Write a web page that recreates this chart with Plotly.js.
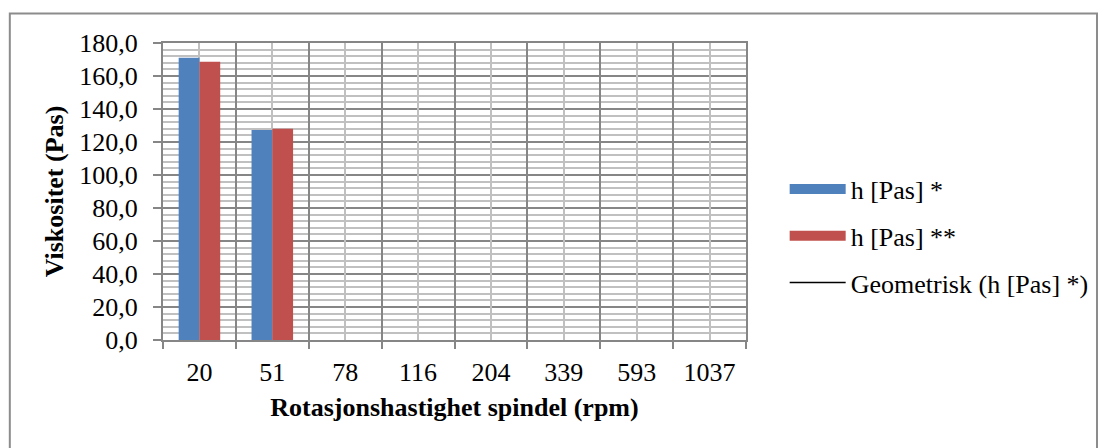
<!DOCTYPE html>
<html>
<head>
<meta charset="utf-8">
<script src="https://cdn.plot.ly/plotly-3.0.1.min.js"></script>
<style>
  html, body { margin: 0; padding: 0; background: #fff; }
  #chart { width: 1106px; height: 448px; }
</style>
</head>
<body>
<div id="chart"></div>
<script>
const categories = ['20', '51', '78', '116', '204', '339', '593', '1037'];
const viscStar = [171.0, 127.3, null, null, null, null, null, null];
const viscStarStar = [168.7, 128.1, null, null, null, null, null, null];
const geometrisk = [null, null, null, null, null, null, null, null];
const seriesNames = ['h [Pas] *', 'h [Pas] **', 'Geometrisk (h [Pas] *)'];
const yTitle = 'Viskositet (Pas)';
const xTitle = 'Rotasjonshastighet spindel (rpm)';

const FONT = '"Liberation Serif", "Times New Roman", serif';
const FS = 26;
const DARK = '#868686';
const LIGHT = '#c0c0c0';
const BLUE = '#4F81BD';
const RED = '#C0504D';

const traces = [
  { type: 'bar', name: seriesNames[0], x: categories, y: viscStar,
    marker: { color: BLUE }, showlegend: false, xaxis: 'x', yaxis: 'y' },
  { type: 'bar', name: seriesNames[1], x: categories, y: viscStarStar,
    marker: { color: RED }, showlegend: false, xaxis: 'x', yaxis: 'y' },
  // legend-only entries drawn as wide swatches, as in the reference
  { type: 'scatter', mode: 'lines', name: seriesNames[0], x: categories, y: geometrisk.map(() => null),
    line: { color: BLUE, width: 13 }, legendgroup: 'a', xaxis: 'x2', yaxis: 'y' },
  { type: 'scatter', mode: 'lines', name: seriesNames[1], x: categories, y: geometrisk.map(() => null),
    line: { color: RED, width: 13 }, legendgroup: 'b', xaxis: 'x2', yaxis: 'y' },
  { type: 'scatter', mode: 'lines', name: seriesNames[2], x: categories, y: geometrisk,
    line: { color: '#000', width: 1.5 }, legendgroup: 'c', xaxis: 'x2', yaxis: 'y' }
];

const L = 163, R = 751, T = 43, B = 340, W = 1106, H = 448;
const pw = R - L, ph = B - T;
const px = v => (v - L) / pw;
const py = v => (B - v) / ph;

const layout = {
  width: W, height: H,
  margin: { l: L, r: W - R, t: T, b: H - B, pad: 0 },
  paper_bgcolor: '#fff', plot_bgcolor: '#fff',
  separators: ', ',
  font: { family: FONT, size: FS, color: '#000' },
  barmode: 'group', bargap: 0.43, bargroupgap: 0,
  showlegend: true,
  legend: {
    x: px(790), xanchor: 'left', y: py(236), yanchor: 'middle',
    font: { family: FONT, size: FS, color: '#000' },
    tracegroupgap: 10, itemwidth: 56, bgcolor: 'rgba(0,0,0,0)'
  },
  xaxis: {
    type: 'category', categoryorder: 'array', categoryarray: categories,
    range: [-0.5, 7.5], tickson: 'boundaries',
    showgrid: true, gridcolor: DARK, gridwidth: 2,
    showline: true, linecolor: DARK, linewidth: 2, mirror: true,
    ticks: 'outside', ticklen: 7, tickcolor: DARK, tickwidth: 2,
    ticklabelstandoff: 8,
    tickfont: { family: FONT, size: FS, color: '#000' },
    title: { text: '<b>' + xTitle + '</b>', font: { family: FONT, size: FS, color: '#000' }, standoff: 12 },
    fixedrange: true, zeroline: false
  },
  xaxis2: {
    type: 'category', categoryorder: 'array', categoryarray: categories,
    range: [-0.5, 7.5], overlaying: 'x', anchor: 'y', side: 'bottom',
    showgrid: true, gridcolor: LIGHT, gridwidth: 2,
    showticklabels: false, ticks: '', showline: false, zeroline: false
  },
  yaxis: {
    range: [0, 180], dtick: 20, tick0: 0, tickformat: '.1f',
    showgrid: true, gridcolor: DARK, gridwidth: 2,
    minor: { dtick: 4, showgrid: true, gridcolor: LIGHT, gridwidth: 2, ticks: '' },
    showline: true, linecolor: DARK, linewidth: 2, mirror: true,
    ticks: 'outside', ticklen: 8, tickcolor: DARK, tickwidth: 2,
    ticklabelstandoff: 10,
    tickfont: { family: FONT, size: FS, color: '#000' },
    title: { text: '<b>' + yTitle + '</b>', font: { family: FONT, size: FS, color: '#000' }, standoff: 8 },
    zeroline: false, fixedrange: true
  },
  shapes: [
    { type: 'rect', xref: 'paper', yref: 'paper', layer: 'below',
      x0: px(8.5), x1: px(1105), y0: py(13.5), y1: py(470),
      line: { color: '#8c8c8c', width: 2 }, fillcolor: 'rgba(0,0,0,0)' }
  ]
};

Plotly.newPlot('chart', traces, layout, { displayModeBar: false, staticPlot: true });
</script>
</body>
</html>
